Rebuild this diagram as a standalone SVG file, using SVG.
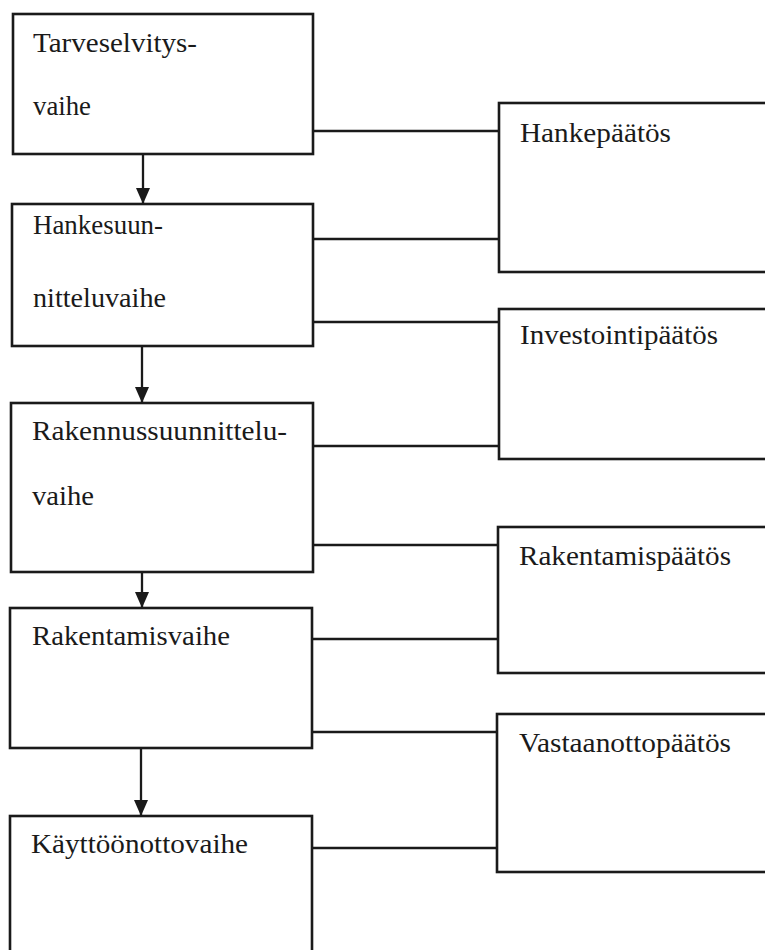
<svg xmlns="http://www.w3.org/2000/svg" width="765" height="950" viewBox="0 0 765 950">
<defs>
<style>
.box{fill:#fff;stroke:#1a1a1a;stroke-width:2.6}
.ln{fill:none;stroke:#1a1a1a;stroke-width:2.3}
.t{font-family:'Liberation Serif','Times New Roman','DejaVu Serif',serif;font-size:28px;fill:#1a1a1a}
</style>
<marker id="ah" viewBox="0 0 16 14" refX="16" refY="7" markerWidth="16" markerHeight="14" markerUnits="userSpaceOnUse" orient="auto">
<path d="M0,0 L16,7 L0,14 Z" fill="#1a1a1a"/>
</marker>
</defs>
<rect width="765" height="950" fill="#fff"/>
<g id="connectors">
<line class="ln" x1="313" y1="131" x2="499" y2="131"/>
<line class="ln" x1="313" y1="239" x2="499" y2="239"/>
<line class="ln" x1="313" y1="322" x2="499" y2="322"/>
<line class="ln" x1="313" y1="446" x2="499" y2="446"/>
<line class="ln" x1="313" y1="545" x2="499" y2="545"/>
<line class="ln" x1="312" y1="639" x2="499" y2="639"/>
<line class="ln" x1="312" y1="732" x2="498" y2="732"/>
<line class="ln" x1="312" y1="848" x2="498" y2="848"/>
<line class="ln" x1="143" y1="154" x2="143" y2="204" marker-end="url(#ah)"/>
<line class="ln" x1="142" y1="346" x2="142" y2="403" marker-end="url(#ah)"/>
<line class="ln" x1="142" y1="572" x2="142" y2="608" marker-end="url(#ah)"/>
<line class="ln" x1="141" y1="748" x2="141" y2="816" marker-end="url(#ah)"/>
</g>
<g id="tarveselvitys">
<rect class="box" x="13" y="14" width="300" height="140"/>
<text class="t" font-family="Liberation Serif, serif" x="33" y="52" textLength="164" lengthAdjust="spacingAndGlyphs">Tarveselvitys-</text>
<text class="t" font-family="Liberation Serif, serif" x="33" y="115" textLength="58" lengthAdjust="spacingAndGlyphs">vaihe</text>
</g>
<g id="hankesuunnittelu">
<rect class="box" x="12" y="204" width="301" height="142"/>
<text class="t" font-family="Liberation Serif, serif" x="33" y="234" textLength="130" lengthAdjust="spacingAndGlyphs">Hankesuun-</text>
<text class="t" font-family="Liberation Serif, serif" x="33" y="307" textLength="133" lengthAdjust="spacingAndGlyphs">nitteluvaihe</text>
</g>
<g id="rakennussuunnittelu">
<rect class="box" x="11" y="403" width="302" height="169"/>
<text class="t" font-family="Liberation Serif, serif" x="32" y="440" textLength="255" lengthAdjust="spacingAndGlyphs">Rakennussuunnittelu-</text>
<text class="t" font-family="Liberation Serif, serif" x="32" y="505" textLength="62" lengthAdjust="spacingAndGlyphs">vaihe</text>
</g>
<g id="rakentamisvaihe">
<rect class="box" x="10" y="608" width="302" height="140"/>
<text class="t" font-family="Liberation Serif, serif" x="32" y="645" textLength="198" lengthAdjust="spacingAndGlyphs">Rakentamisvaihe</text>
</g>
<g id="kayttoonottovaihe">
<rect class="box" x="10" y="816" width="302" height="150"/>
<text class="t" font-family="Liberation Serif, serif" x="31" y="853" textLength="217" lengthAdjust="spacingAndGlyphs">Käyttöönottovaihe</text>
</g>
<g id="hankepaatos">
<rect class="box" x="499" y="103" width="280" height="169"/>
<text class="t" font-family="Liberation Serif, serif" x="520" y="142" textLength="151" lengthAdjust="spacingAndGlyphs">Hankepäätös</text>
</g>
<g id="investointipaatos">
<rect class="box" x="499" y="309" width="280" height="150"/>
<text class="t" font-family="Liberation Serif, serif" x="520" y="344" textLength="198" lengthAdjust="spacingAndGlyphs">Investointipäätös</text>
</g>
<g id="rakentamispaatos">
<rect class="box" x="498" y="527" width="280" height="146"/>
<text class="t" font-family="Liberation Serif, serif" x="519" y="565" textLength="212" lengthAdjust="spacingAndGlyphs">Rakentamispäätös</text>
</g>
<g id="vastaanottopaatos">
<rect class="box" x="497" y="714" width="280" height="158"/>
<text class="t" font-family="Liberation Serif, serif" x="519" y="752" textLength="212" lengthAdjust="spacingAndGlyphs">Vastaanottopäätös</text>
</g>
</svg>
